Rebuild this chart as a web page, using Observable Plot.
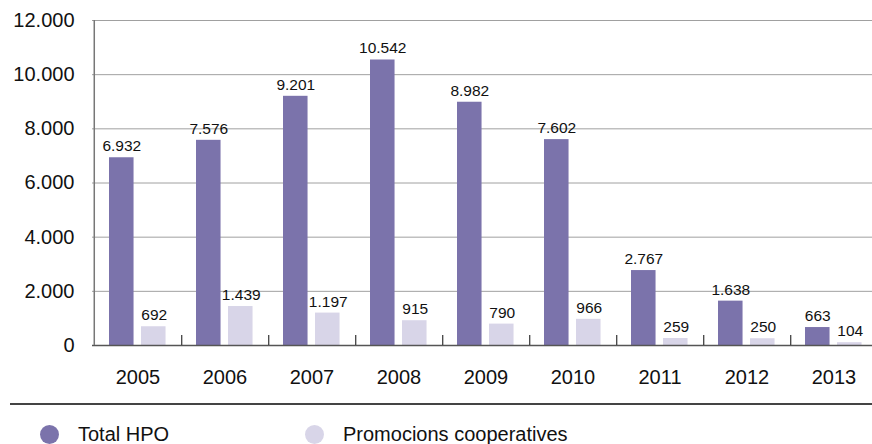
<!DOCTYPE html>
<html><head><meta charset="utf-8">
<script src="https://cdn.jsdelivr.net/npm/d3@7"></script>
<script src="https://cdn.jsdelivr.net/npm/@observablehq/plot@0.6"></script>
<style>
body{margin:0;background:#fff;font-family:"Liberation Sans",Arial,Helvetica,sans-serif;}
#chart svg{display:block;}
#legend{position:relative;height:52px;width:872px;overflow:hidden;}
#legend .rule{position:absolute;left:10px;right:0;top:11px;border-top:2px solid #444;}
#legend .item{position:absolute;top:32px;height:20px;display:flex;align-items:center;font-size:20px;color:#111;white-space:nowrap;}
#legend .sw{width:19px;height:19px;border-radius:50%;margin-right:19px;flex:none;}
</style>
</head><body>
<div id="chart"></div>
<div id="legend"></div>
<script>
const years = ["2005","2006","2007","2008","2009","2010","2011","2012","2013"];
const totalHPO = [6932, 7576, 9201, 10542, 8982, 7602, 2767, 1638, 663];
const promocions = [692, 1439, 1197, 915, 790, 966, 259, 250, 104];
const yTicks = [0, 2000, 4000, 6000, 8000, 10000, 12000];
const seriesNames = ["Total HPO", "Promocions cooperatives"];
const seriesColors = ["#7b73ab", "#d8d5e8"];

const loc = d3.formatLocale({decimal: ",", thousands: ".", grouping: [3], currency: ["", "€"]});
const fmt = loc.format(",");

const W = 872, H = 392, mTop = 20, mBottom = 47, mLeft = 92;
const xRange = [92, 879.1];
const step = (xRange[1] - xRange[0]) / years.length;
const plotH = H - mTop - mBottom;

const totalData = years.map((y, i) => ({year: y, value: totalHPO[i]}));
const promoData = years.map((y, i) => ({year: y, value: promocions[i]}));

const barW = 25, outer = 15, gap = 7;
const off = step / 2 - outer - barW / 2;

const chart = Plot.plot({
  width: W, height: H,
  marginTop: mTop, marginBottom: mBottom, marginLeft: mLeft, marginRight: 0,
  style: {fontFamily: '"Liberation Sans", Arial, Helvetica, sans-serif', fontSize: "20px", color: "#111", background: "#fff"},
  x: {type: "band", domain: years, range: xRange, padding: 0, label: null},
  y: {domain: [0, 12000], range: [H - mBottom, mTop], label: null},
  marks: [
    Plot.gridY(yTicks, {stroke: "#a0a0a0", strokeOpacity: 1, strokeWidth: 1}),
    Plot.barY(totalData, {x: "year", y: "value", fill: seriesColors[0], insetLeft: outer, insetRight: step - outer - barW}),
    Plot.barY(promoData, {x: "year", y: "value", fill: seriesColors[1], insetLeft: outer + barW + gap, insetRight: step - outer - 2 * barW - gap}),
    Plot.ruleY([0], {stroke: "#555", strokeWidth: 1.5}),
    Plot.tickX([years[0]], {x: d => d, dx: -step / 2, stroke: "#777", strokeWidth: 1.5}),
    Plot.tickX(years, {x: d => d, dx: step / 2, insetTop: plotH - 10, stroke: "#333", strokeWidth: 1.2}),
    Plot.text(totalData, {x: "year", y: "value", text: d => fmt(d.value), dx: -off, dy: -6.5, lineAnchor: "bottom", fontSize: 15.5, fill: "#111"}),
    Plot.text(promoData, {x: "year", y: "value", text: d => fmt(d.value), dx: off, dy: -6.5, lineAnchor: "bottom", fontSize: 15.5, fill: "#111"}),
    Plot.axisY(yTicks, {tickSize: 0, tickPadding: 18, tickFormat: fmt, fontSize: 20, fill: "#111", label: null}),
    Plot.axisX({tickSize: 0, tickPadding: 24, fontSize: 20, fill: "#111", label: null})
  ]
});
document.getElementById("chart").appendChild(chart);

const legend = document.getElementById("legend");
legend.innerHTML = '<div class="rule"></div>';
const lefts = [40, 305];
seriesNames.forEach((name, i) => {
  const it = document.createElement("div");
  it.className = "item";
  it.style.left = lefts[i] + "px";
  const sw = document.createElement("span");
  sw.className = "sw";
  sw.style.background = seriesColors[i];
  const tx = document.createElement("span");
  tx.textContent = name;
  it.appendChild(sw); it.appendChild(tx);
  legend.appendChild(it);
});
</script>
</body></html>
